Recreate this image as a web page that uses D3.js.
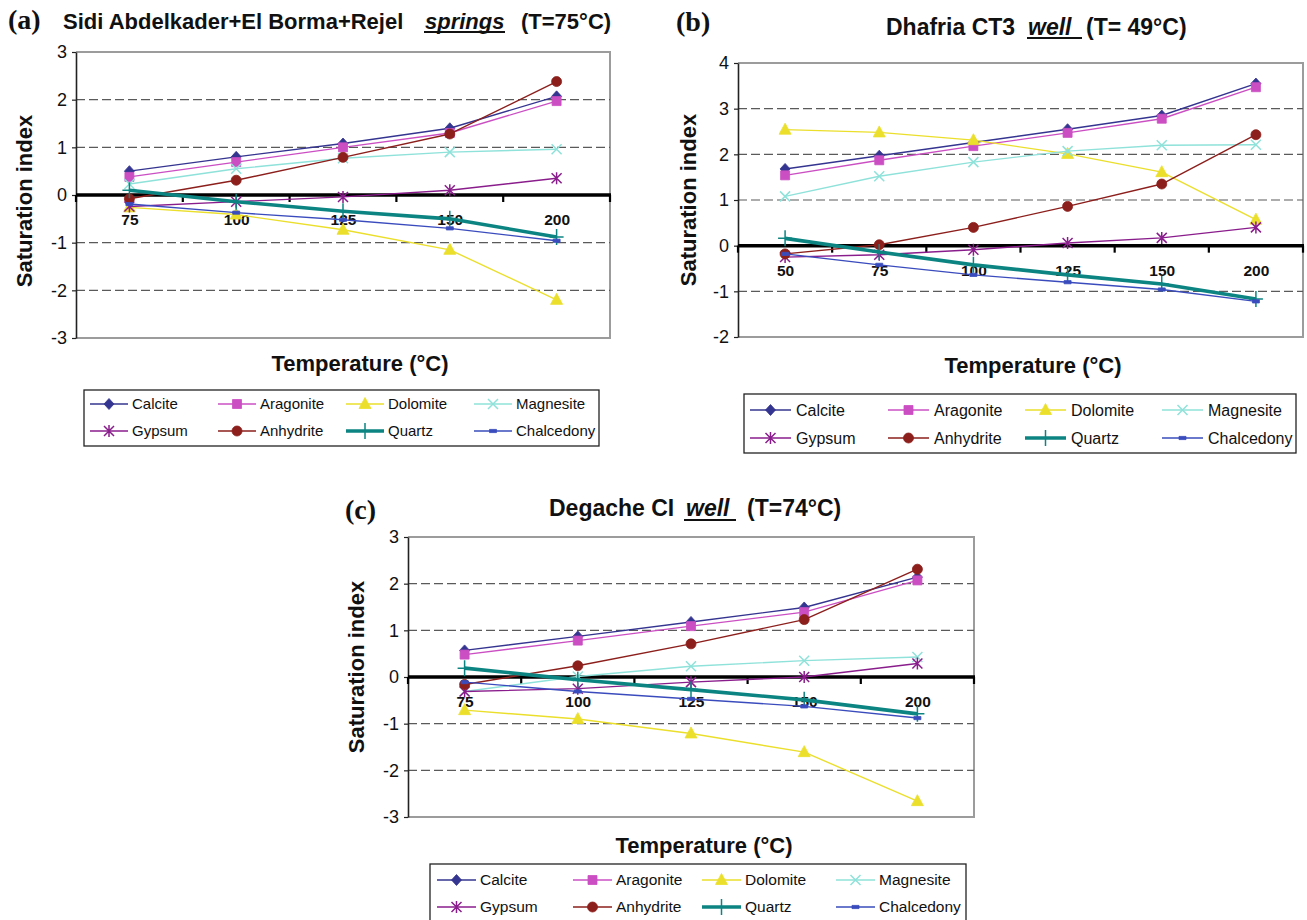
<!DOCTYPE html>
<html>
<head>
<meta charset="utf-8">
<title>Saturation index vs temperature</title>
<script src="https://cdn.jsdelivr.net/npm/d3@7/dist/d3.min.js"></script>
<style>
  body { margin: 0; background: #fff; }
  svg text { font-family: "Liberation Sans", Arial, sans-serif; fill: #111; }
  svg text.tag { font-family: "Liberation Serif", "Times New Roman", serif; font-weight: bold; }
</style>
</head>
<body>
<svg id="chart" width="1307" height="920"></svg>
<script>
(function() {
  'use strict';

  var minerals = ['Calcite', 'Aragonite', 'Dolomite', 'Magnesite',
                  'Gypsum', 'Anhydrite', 'Quartz', 'Chalcedony'];

  // (a) Sidi Abdelkader + El Borma + Rejel springs
  var tempsA = ['75', '100', '125', '150', '200'];
  var yTicksA = [-3, -2, -1, 0, 1, 2, 3];
  var calciteA = [0.50, 0.80, 1.08, 1.40, 2.07];
  var aragoniteA = [0.38, 0.69, 1.00, 1.30, 1.97];
  var dolomiteA = [-0.26, -0.41, -0.73, -1.15, -2.20];
  var magnesiteA = [0.23, 0.55, 0.77, 0.90, 0.96];
  var gypsumA = [-0.24, -0.14, -0.04, 0.10, 0.35];
  var anhydriteA = [-0.08, 0.31, 0.79, 1.28, 2.38];
  var quartzA = [0.10, -0.14, -0.34, -0.50, -0.88];
  var chalcedonyA = [-0.19, -0.37, -0.52, -0.70, -0.96];

  // (b) Dhafria CT3 well
  var tempsB = ['50', '75', '100', '125', '150', '200'];
  var yTicksB = [-2, -1, 0, 1, 2, 3, 4];
  var calciteB = [1.68, 1.97, 2.26, 2.55, 2.85, 3.55];
  var aragoniteB = [1.54, 1.87, 2.18, 2.47, 2.78, 3.47];
  var dolomiteB = [2.54, 2.48, 2.31, 2.01, 1.61, 0.57];
  var magnesiteB = [1.08, 1.52, 1.83, 2.07, 2.20, 2.21];
  var gypsumB = [-0.25, -0.20, -0.09, 0.06, 0.17, 0.40];
  var anhydriteB = [-0.18, 0.02, 0.40, 0.86, 1.35, 2.43];
  var quartzB = [0.16, -0.14, -0.42, -0.64, -0.84, -1.17];
  var chalcedonyB = [-0.18, -0.42, -0.64, -0.80, -0.96, -1.22];

  // (c) Degache CI well
  var tempsC = ['75', '100', '125', '150', '200'];
  var yTicksC = [-3, -2, -1, 0, 1, 2, 3];
  var calciteC = [0.57, 0.87, 1.18, 1.49, 2.14];
  var aragoniteC = [0.48, 0.78, 1.09, 1.39, 2.07];
  var dolomiteC = [-0.71, -0.90, -1.21, -1.61, -2.66];
  var magnesiteC = [-0.31, 0.01, 0.23, 0.35, 0.43];
  var gypsumC = [-0.31, -0.25, -0.11, 0.00, 0.29];
  var anhydriteC = [-0.16, 0.24, 0.71, 1.23, 2.31];
  var quartzC = [0.19, -0.06, -0.27, -0.49, -0.79];
  var chalcedonyC = [-0.11, -0.31, -0.47, -0.63, -0.88];

  var mineralStyle = {
    Calcite:    { color: '#343491', marker: 'diamond', width: 1.4 },
    Aragonite:  { color: '#cb4fc3', marker: 'square', width: 1.4 },
    Dolomite:   { color: '#ebdf2c', marker: 'triangle', width: 1.4 },
    Magnesite:  { color: '#8fe2da', marker: 'cross', width: 1.4 },
    Gypsum:     { color: '#8a1d8c', marker: 'star', width: 1.4 },
    Anhydrite:  { color: '#8c1f1c', marker: 'circle', width: 1.4 },
    Quartz:     { color: '#0c8582', marker: 'plus', width: 3.6 },
    Chalcedony: { color: '#3a4cbd', marker: 'dash', width: 1.4 }
  };

  var panels = [
    {
      tag: '(a)', tagX: 8, tagY: 29,
      temps: tempsA, yTicks: yTicksA,
      values: [calciteA, aragoniteA, dolomiteA, magnesiteA, gypsumA, anhydriteA, quartzA, chalcedonyA],
      left: 76, right: 610, top: 52, bottom: 338,
      titleY: 29, titleSize: 22,
      title: [
        { text: 'Sidi Abdelkader+El Borma+Rejel', x: 63 },
        { text: 'springs', x: 425, italic: true, ul: [424, 505], ulY: 32 },
        { text: '(T=75°C)', x: 521 }
      ],
      yTitleX: 24, yTitleY: 201, xTitleX: 360, xTitleY: 371,
      legend: { x: 84, y: 390, w: 515, h: 56, cols: [90, 218, 346, 474], rows: [404, 431],
                lineLen: 38, textGap: 42, fontSize: 15 }
    },
    {
      tag: '(b)', tagX: 676, tagY: 31,
      temps: tempsB, yTicks: yTicksB,
      values: [calciteB, aragoniteB, dolomiteB, magnesiteB, gypsumB, anhydriteB, quartzB, chalcedonyB],
      left: 738, right: 1303, top: 63, bottom: 337,
      titleY: 35, titleSize: 23,
      title: [
        { text: 'Dhafria CT3', x: 886 },
        { text: 'well', x: 1028, italic: true, ul: [1027, 1082], ulY: 38 },
        { text: '(T= 49°C)', x: 1086 }
      ],
      yTitleX: 688, yTitleY: 200, xTitleX: 1033, xTitleY: 373,
      legend: { x: 744, y: 394, w: 552, h: 59, cols: [750, 888, 1025, 1162], rows: [410, 438],
                lineLen: 41, textGap: 46, fontSize: 16 }
    },
    {
      tag: '(c)', tagX: 345, tagY: 519,
      temps: tempsC, yTicks: yTicksC,
      values: [calciteC, aragoniteC, dolomiteC, magnesiteC, gypsumC, anhydriteC, quartzC, chalcedonyC],
      left: 408, right: 974, top: 537, bottom: 817,
      titleY: 516, titleSize: 23,
      title: [
        { text: 'Degache CI', x: 549 },
        { text: 'well', x: 686, italic: true, ul: [684, 736], ulY: 520 },
        { text: '(T=74°C)', x: 747 }
      ],
      yTitleX: 356, yTitleY: 667, xTitleX: 704, xTitleY: 853,
      legend: { x: 430, y: 864, w: 536, h: 58, cols: [437, 573, 702, 836], rows: [880, 907],
                lineLen: 39, textGap: 43, fontSize: 15.5 }
    }
  ];

  function markerPath(kind) {
    switch (kind) {
      case 'diamond': return 'M0,-5.5L5,0L0,5.5L-5,0Z';
      case 'square': return 'M-4.5,-4.5H4.5V4.5H-4.5Z';
      case 'triangle': return 'M0,-6.5L6,4.5L-6,4.5Z';
      case 'cross': return 'M-5,-5L5,5M-5,5L5,-5';
      case 'star': return 'M-5,-5L5,5M-5,5L5,-5M0,-6V6';
      case 'circle': return 'M5,0A5,5 0 1,1 -5,0A5,5 0 1,1 5,0Z';
      case 'plus': return 'M0,-8V8M-7,0H7';
      case 'dash': return 'M-3.5,-1.6H3.5V1.6H-3.5Z';
    }
    return '';
  }

  function isStroked(kind) {
    return kind === 'cross' || kind === 'star' || kind === 'plus';
  }

  function drawMarker(sel, style) {
    var stroked = isStroked(style.marker);
    sel.attr('d', markerPath(style.marker))
      .attr('fill', stroked ? 'none' : style.color)
      .attr('stroke', style.color)
      .attr('stroke-width', stroked ? 1.5 : 0.8);
  }

  function drawPanel(svg, p) {
    var g = svg.append('g');
    var x = d3.scalePoint().domain(p.temps).range([p.left, p.right]).padding(0.5);
    var xb = d3.scaleBand().domain(p.temps).range([p.left, p.right]);
    var y = d3.scaleLinear().domain(d3.extent(p.yTicks)).range([p.bottom, p.top]);
    var y0 = y(0);

    // grey frame on top, right and bottom
    g.append('path')
      .attr('d', 'M' + p.left + ',' + p.top + 'H' + p.right + 'V' + p.bottom + 'H' + p.left)
      .attr('fill', 'none')
      .attr('stroke', '#9c9c9c')
      .attr('stroke-width', 2);

    // dashed gridlines
    g.selectAll('line.grid')
      .data(p.yTicks.filter(function(d) {
        return d !== 0 && d !== y.domain()[0] && d !== y.domain()[1];
      }))
      .enter()
      .append('line')
      .attr('class', 'grid')
      .attr('x1', p.left)
      .attr('x2', p.right)
      .attr('y1', function(d) { return y(d); })
      .attr('y2', function(d) { return y(d); })
      .attr('stroke', '#5a5a5a')
      .attr('stroke-width', 1.2)
      .attr('stroke-dasharray', '9,4');

    // y axis
    var yAxis = g.append('g')
      .attr('transform', 'translate(' + p.left + ',0)')
      .call(d3.axisLeft(y)
        .tickValues(p.yTicks)
        .tickSize(4)
        .tickSizeOuter(0)
        .tickPadding(5)
        .tickFormat(function(d) { return String(d); }));
    yAxis.select('.domain').attr('stroke', '#222').attr('stroke-width', 1.6);
    yAxis.selectAll('.tick line').attr('stroke', '#222').attr('stroke-width', 1.2);
    yAxis.selectAll('.tick text')
      .attr('font-size', 18)
      .attr('font-family', '"Liberation Sans", Arial, sans-serif')
      .attr('fill', '#111');

    // zero line with category boundary ticks
    g.append('line')
      .attr('x1', p.left)
      .attr('x2', p.right + 1)
      .attr('y1', y0)
      .attr('y2', y0)
      .attr('stroke', '#000')
      .attr('stroke-width', 3.5);
    g.selectAll('line.bound')
      .data(p.temps.map(function(t) { return xb(t); }).concat([p.right]))
      .enter()
      .append('line')
      .attr('class', 'bound')
      .attr('x1', function(d) { return d; })
      .attr('x2', function(d) { return d; })
      .attr('y1', y0)
      .attr('y2', y0 + 7)
      .attr('stroke', '#000')
      .attr('stroke-width', 2.2);

    // category labels under the zero line
    var xAxis = g.append('g')
      .attr('transform', 'translate(0,' + y0 + ')')
      .call(d3.axisBottom(x).tickSize(0).tickPadding(19));
    xAxis.select('.domain').remove();
    xAxis.selectAll('.tick text')
      .attr('font-size', 15.5)
      .attr('font-weight', 'bold')
      .attr('font-family', '"Liberation Sans", Arial, sans-serif')
      .attr('fill', '#111');

    // series
    var line = d3.line()
      .x(function(d) { return x(d.t); })
      .y(function(d) { return y(d.v); });

    minerals.forEach(function(name, i) {
      var style = mineralStyle[name];
      var pts = p.temps.map(function(t, j) {
        return { t: t, v: p.values[i][j] };
      });
      g.append('path')
        .datum(pts)
        .attr('d', line)
        .attr('fill', 'none')
        .attr('stroke', style.color)
        .attr('stroke-width', style.width)
        .attr('stroke-linejoin', 'round');
      g.selectAll('path.m' + i)
        .data(pts)
        .enter()
        .append('path')
        .attr('class', 'm' + i)
        .attr('transform', function(d) {
          return 'translate(' + x(d.t) + ',' + y(d.v) + ')';
        })
        .call(drawMarker, style);
    });

    // titles
    svg.append('text')
      .attr('class', 'tag')
      .attr('x', p.tagX)
      .attr('y', p.tagY)
      .attr('font-size', 28)
      .text(p.tag);

    p.title.forEach(function(piece) {
      svg.append('text')
        .attr('x', piece.x)
        .attr('y', p.titleY)
        .attr('font-size', p.titleSize)
        .attr('font-weight', 'bold')
        .attr('font-style', piece.italic ? 'italic' : 'normal')
        .text(piece.text);
      if (piece.ul) {
        svg.append('line')
          .attr('x1', piece.ul[0])
          .attr('x2', piece.ul[1])
          .attr('y1', piece.ulY)
          .attr('y2', piece.ulY)
          .attr('stroke', '#111')
          .attr('stroke-width', 2);
      }
    });

    svg.append('text')
      .attr('transform', 'translate(' + p.yTitleX + ',' + p.yTitleY + ') rotate(-90)')
      .attr('text-anchor', 'middle')
      .attr('dominant-baseline', 'central')
      .attr('font-size', 22)
      .attr('font-weight', 'bold')
      .text('Saturation index');

    svg.append('text')
      .attr('x', p.xTitleX)
      .attr('y', p.xTitleY)
      .attr('text-anchor', 'middle')
      .attr('font-size', 22)
      .attr('font-weight', 'bold')
      .text('Temperature (°C)');

    drawLegend(svg, p.legend);
  }

  function drawLegend(svg, L) {
    var lg = svg.append('g');
    lg.append('rect')
      .attr('x', L.x)
      .attr('y', L.y)
      .attr('width', L.w)
      .attr('height', L.h)
      .attr('fill', '#fff')
      .attr('stroke', '#222')
      .attr('stroke-width', 1.3);

    var items = lg.selectAll('g.item')
      .data(minerals)
      .enter()
      .append('g')
      .attr('class', 'item')
      .attr('transform', function(d, i) {
        return 'translate(' + L.cols[i % 4] + ',' + L.rows[Math.floor(i / 4)] + ')';
      });

    items.append('line')
      .attr('x1', 0)
      .attr('x2', L.lineLen)
      .attr('y1', 0)
      .attr('y2', 0)
      .attr('stroke', function(d) { return mineralStyle[d].color; })
      .attr('stroke-width', function(d) { return mineralStyle[d].width; });

    items.each(function(d) {
      d3.select(this).append('path')
        .attr('transform', 'translate(' + (L.lineLen / 2) + ',0)')
        .call(drawMarker, mineralStyle[d]);
    });

    items.append('text')
      .attr('x', L.textGap)
      .attr('y', 0)
      .attr('dy', '0.35em')
      .attr('font-size', L.fontSize)
      .text(function(d) { return d; });
  }

  var svg = d3.select('#chart');
  svg.append('rect')
    .attr('width', 1307)
    .attr('height', 920)
    .attr('fill', '#fff');

  panels.forEach(function(p) {
    drawPanel(svg, p);
  });
})();
</script>
</body>
</html>
